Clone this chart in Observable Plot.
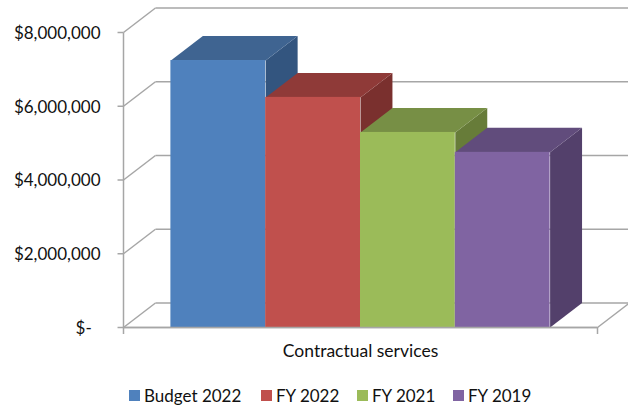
<!DOCTYPE html>
<html>
<head>
<meta charset="utf-8">
<script src="https://cdn.jsdelivr.net/npm/d3@7"></script>
<script src="https://cdn.jsdelivr.net/npm/@observablehq/plot@0.6"></script>
<style>
  html, body { margin: 0; padding: 0; background: #fff; }
  #chart svg { display: block; }
  #legend {
    display: flex; height: 30px; align-items: center;
    padding-left: 129px; box-sizing: border-box;
    font: 17px Lato, sans-serif; color: #111;
  }
  #legend .item { display: flex; align-items: center; margin-right: 20px; white-space: nowrap; }
  #legend .item:first-child { width: 112px; }
  #legend .item:not(:first-child) { width: 76px; }
  #legend .swatch { width: 11px; height: 11px; margin-right: 4px; flex: none; }
</style>
</head>
<body>
<div id="chart"></div>
<div id="legend"></div>
<script>
// Spending by fiscal year for a single budget line.
const category = "Contractual services";
const series = ["Budget 2022", "FY 2022", "FY 2021", "FY 2019"];
const values = [7240000, 6240000, 5290000, 4750000];
const frontColors = ["#4f81bd", "#c0504d", "#9bbb59", "#8064a2"];
const topColors = ["#3f6491", "#8f3a38", "#778f45", "#614c7c"];
const sideColors = ["#33557f", "#7a302e", "#677c39", "#53406b"];
const yTicks = [0, 2000000, 4000000, 6000000, 8000000];

// Oblique projection of the box: depth expressed in scale units.
const slots = series.length + 1;
const depthX = 0.337;
const depthY = 664000;
const tickLength = 0.063;
const left = i => i + 0.5;
const right = i => i + 1.5;

const face = (id, color, pts) => pts.map(([x, y]) => ({id, color, x, y}));

// Faces of each box, painted back to front in series order.
const sides = series.map((s, i) => face(s + " side", sideColors[i], [
  [right(i), 0],
  [right(i), values[i]],
  [right(i) + depthX, values[i] + depthY],
  [right(i) + depthX, depthY]
]));
const tops = series.map((s, i) => face(s + " top", topColors[i], [
  [left(i), values[i]],
  [right(i), values[i]],
  [right(i) + depthX, values[i] + depthY],
  [left(i) + depthX, values[i] + depthY]
]));

const boxMarks = series.flatMap((s, i) => [
  Plot.line(sides[i], {x: "x", y: "y", z: "id", fill: "color", stroke: null}),
  Plot.line(tops[i], {x: "x", y: "y", z: "id", fill: "color", stroke: null}),
  Plot.rect([i], {
    x1: d => left(d), x2: d => right(d),
    y1: 0, y2: d => values[d],
    fill: frontColors[i]
  })
]);

const wall = "#a6a6a6";
const wallWidth = 1.5;
const seg = (x1, y1, x2, y2) => ({x1, y1, x2, y2});

const frame = [
  // Tick stubs left of the vertical axis
  ...yTicks.map(v => seg(-tickLength, v, 0, v)),
  // Receding lines on the side wall, one per tick
  ...yTicks.map(v => seg(0, v, depthX, v + depthY)),
  // Gridlines on the back wall
  ...yTicks.map(v => seg(depthX, v + depthY, slots + depthX, v + depthY)),
  // Floor front edge, right edge and the vertical axis
  seg(0, 0, slots, 0),
  seg(slots, 0, slots + depthX, depthY),
  seg(0, 0, 0, 8000000)
];

const money = v => v === 0 ? "$-\u00a0\u00a0" : "$" + d3.format(",")(v);

const plot = Plot.plot({
  width: 628,
  height: 380,
  marginLeft: 123,
  marginRight: 31,
  marginTop: 32,
  marginBottom: 53,
  style: {fontFamily: "Lato, sans-serif", fontSize: "17px", color: "#111", background: "#fff"},
  x: {domain: [0, slots], axis: null},
  y: {domain: [0, 8000000], axis: null},
  marks: [
    Plot.link(frame, {
      x1: "x1", y1: "y1", x2: "x2", y2: "y2",
      stroke: wall, strokeWidth: wallWidth
    }),
    ...boxMarks,
    // Floor front edge stays on top of the boxes' base
    Plot.ruleY([0], {stroke: wall, strokeWidth: wallWidth}),
    Plot.axisY({
      ticks: yTicks,
      tickFormat: money,
      tickSize: 0,
      tickPadding: 23,
      label: null,
      fill: "#111",
      fontSize: 17,
      dy: 1
    }),
    Plot.axisX({
      ticks: [0, slots],
      tickFormat: () => "",
      tickSize: 7,
      label: null,
      stroke: wall,
      strokeWidth: wallWidth
    }),
    Plot.text([category], {
      x: slots / 2,
      y: 0,
      text: d => d,
      dy: 24,
      fontSize: 17.5,
      fill: "#111"
    })
  ]
});
document.getElementById("chart").append(plot);

// Legend row beneath the plot
const legend = d3.select("#legend");
series.forEach((s, i) => {
  const item = legend.append("div").attr("class", "item");
  item.append("div").attr("class", "swatch").style("background", frontColors[i]);
  item.append("div").text(s);
});
</script>
</body>
</html>
